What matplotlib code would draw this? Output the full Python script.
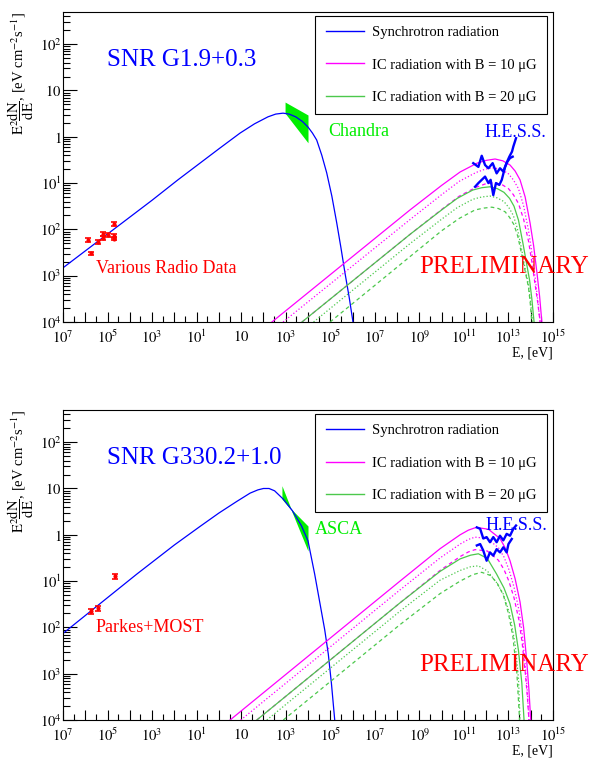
import numpy as np
import matplotlib.pyplot as plt
from matplotlib.lines import Line2D
from matplotlib.ticker import FixedLocator, FixedFormatter, LogLocator, NullFormatter

# --- fonts (ROOT-like Times look) ---
plt.rcParams['font.family'] = ['Liberation Serif', 'DejaVu Serif']
plt.rcParams['mathtext.fontset'] = 'stix'

# --- data (log10 E [eV], log10 E^2 dN/dE) ---
# upper panel: SNR G1.9+0.3
top_sync_logE = [-7.0, -3.0, -1.84, 0.0, 0.95, 1.6, 2.2, 2.55, 2.88, 3.15, 3.45, 3.75, 4.0, 4.2,
                 4.39, 4.62, 4.84, 5.07, 5.29, 5.48, 5.66, 5.85, 6.02]
top_sync_logF = [-2.83, -1.37, -0.93, -0.26, 0.08, 0.28, 0.43, 0.49, 0.51, 0.49, 0.43, 0.33, 0.21, 0.08,
                 -0.07, -0.40, -0.78, -1.28, -1.86, -2.40, -2.94, -3.47, -4.0]

top_ic10_solid_logE = [2.38, 8.58, 10.0, 10.83, 11.59, 12.0, 12.40, 12.75, 13.07, 13.3, 13.52, 13.75, 13.97, 14.13, 14.28, 14.4, 14.5]
top_ic10_solid_logF = [-4.0, -1.58, -1.05, -0.76, -0.57, -0.51, -0.48, -0.52, -0.61, -0.74, -0.93, -1.30, -1.86, -2.35, -2.94, -3.45, -4.0]
top_ic10_dot_logE = [2.88, 8.6, 10.0, 10.8, 11.55, 11.95, 12.35, 12.7, 13.0, 13.22, 13.45, 13.68, 13.9, 14.05, 14.2, 14.32, 14.42]
top_ic10_dot_logF = [-4.0, -1.78, -1.25, -0.96, -0.77, -0.70, -0.67, -0.71, -0.80, -0.93, -1.12, -1.49, -2.02, -2.5, -3.05, -3.55, -4.0]
top_ic10_dash_logE = [3.73, 8.6, 10.0, 10.8, 11.55, 11.95, 12.35, 12.7, 13.0, 13.22, 13.45, 13.68, 13.9, 14.05, 14.2, 14.32, 14.42]
top_ic10_dash_logF = [-4.0, -2.10, -1.57, -1.28, -1.09, -1.02, -0.99, -1.03, -1.12, -1.25, -1.44, -1.78, -2.25, -2.7, -3.2, -3.6, -4.0]
top_ic20_solid_logE = [3.73, 8.6, 10.0, 10.7, 11.4, 11.8, 12.17, 12.5, 12.8, 13.05, 13.25, 13.45, 13.65, 13.8, 13.95, 14.05, 14.15]
top_ic20_solid_logF = [-4.0, -2.10, -1.58, -1.33, -1.15, -1.10, -1.08, -1.12, -1.20, -1.33, -1.50, -1.80, -2.3, -2.7, -3.1, -3.5, -4.0]
top_ic20_dot_logE = [4.25, 8.6, 10.0, 10.7, 11.4, 11.8, 12.17, 12.5, 12.8, 13.02, 13.22, 13.4, 13.6, 13.75, 13.9, 14.0, 14.08]
top_ic20_dot_logF = [-4.0, -2.30, -1.78, -1.53, -1.35, -1.30, -1.28, -1.32, -1.40, -1.53, -1.70, -1.98, -2.45, -2.85, -3.2, -3.6, -4.0]
top_ic20_dash_logE = [4.99, 8.6, 10.0, 10.8, 11.5, 11.9, 12.25, 12.55, 12.85, 13.05, 13.25, 13.42, 13.6, 13.75, 13.9, 13.98, 14.05]
top_ic20_dash_logF = [-4.0, -2.58, -2.03, -1.76, -1.58, -1.54, -1.52, -1.55, -1.62, -1.74, -1.90, -2.15, -2.55, -2.9, -3.25, -3.6, -4.0]

top_radio_logE = [-5.86, -5.76, -5.44, -5.22, -5.22, -4.97, -4.70, -4.70, -4.70]
top_radio_logF = [-2.23, -2.52, -2.28, -2.10, -2.18, -2.12, -1.88, -2.14, -2.20]
top_radio_err = [0.05, 0.04, 0.04, 0.05, 0.04, 0.04, 0.05, 0.04, 0.04]

top_xray_logE = [2.97, 4.0]
top_xray_hi = [0.75, 0.47]
top_xray_lo = [0.51, -0.13]

top_hess_hi_logE = [11.42, 11.65, 11.80, 11.95, 12.10, 12.29, 12.47, 12.62, 12.77, 12.92, 13.04, 13.16, 13.22, 13.34]
top_hess_hi_logF = [-0.57, -0.65, -0.41, -0.61, -0.68, -0.57, -0.79, -0.68, -0.75, -0.56, -0.43, -0.32, -0.21, -0.03]
top_hess_lo_logE = [11.50, 11.65, 11.80, 11.95, 12.10, 12.20, 12.32, 12.44, 12.59, 12.70, 12.85, 12.95, 13.07, 13.19]
top_hess_lo_logF = [-1.08, -1.00, -0.93, -0.86, -1.00, -0.93, -1.26, -1.00, -1.04, -0.93, -0.65, -0.54, -0.46, -0.43]

# lower panel: SNR G330.2+1.0
bot_sync_logE = [-7.0, -3.69, -2.0, -0.85, 0.0, 0.8, 1.4, 1.75, 2.0, 2.25, 2.5, 2.89, 3.3, 3.7, 4.0, 4.3,
                 4.54, 4.75, 4.91, 5.05, 5.2]
bot_sync_logF = [-2.13, -0.85, -0.22, 0.18, 0.47, 0.72, 0.90, 0.97, 1.0, 1.0, 0.95, 0.77, 0.52, 0.20, -0.13, -0.85,
                 -1.49, -2.05, -2.57, -3.2, -4.0]

bot_ic10_solid_logE = [0.50, 8.13, 9.93, 10.83, 11.2, 11.55, 12.1, 12.62, 12.85, 13.07, 13.3, 13.52, 13.68, 13.82, 13.92, 14.0]
bot_ic10_solid_logF = [-4.0, -1.0, -0.30, 0.0, 0.10, 0.16, 0.12, -0.08, -0.28, -0.56, -0.95, -1.45, -2.0, -2.72, -3.35, -4.0]
bot_ic10_dot_logE = [0.98, 8.13, 9.93, 10.83, 11.2, 11.5, 12.05, 12.55, 12.8, 13.02, 13.25, 13.47, 13.62, 13.75, 13.85, 13.92]
bot_ic10_dot_logF = [-4.0, -1.19, -0.50, -0.20, -0.10, -0.05, -0.08, -0.28, -0.48, -0.75, -1.13, -1.62, -2.15, -2.8, -3.4, -4.0]
bot_ic10_dash_logE = [1.70, 8.13, 9.93, 10.83, 11.2, 11.5, 12.05, 12.55, 12.8, 13.02, 13.25, 13.47, 13.62, 13.75, 13.85, 13.92]
bot_ic10_dash_logF = [-4.0, -1.47, -0.77, -0.47, -0.37, -0.32, -0.35, -0.55, -0.75, -1.0, -1.36, -1.84, -2.35, -2.95, -3.5, -4.0]
bot_ic20_solid_logE = [1.70, 8.13, 9.93, 10.83, 11.3, 11.65, 12.05, 12.47, 12.8, 13.07, 13.28, 13.45, 13.6, 13.70]
bot_ic20_solid_logF = [-4.0, -1.47, -0.79, -0.52, -0.44, -0.41, -0.51, -0.85, -1.15, -1.49, -1.95, -2.50, -3.2, -4.0]
bot_ic20_dot_logE = [2.15, 8.13, 9.93, 10.83, 11.3, 11.65, 12.05, 12.45, 12.77, 13.05, 13.3, 13.45, 13.52]
bot_ic20_dot_logF = [-4.0, -1.65, -0.98, -0.77, -0.69, -0.67, -0.78, -1.02, -1.28, -1.7, -2.36, -3.1, -4.0]
bot_ic20_dash_logE = [2.89, 8.13, 9.93, 10.83, 11.4, 11.8, 12.2, 12.5, 12.77, 13.0, 13.2, 13.38, 13.5]
bot_ic20_dash_logF = [-4.0, -1.94, -1.27, -1.0, -0.86, -0.81, -0.88, -1.05, -1.3, -1.7, -2.2, -3.0, -4.0]

bot_radio_logE = [-5.76, -5.44, -4.67]
bot_radio_logF = [-1.65, -1.59, -0.90]
bot_radio_err = [0.05, 0.05, 0.05]

bot_xray_logE = [2.83, 3.24, 4.0]
bot_xray_hi = [1.06, 0.56, 0.19]
bot_xray_lo = [0.77, 0.54, -0.35]

bot_hess_hi_logE = [11.58, 11.73, 11.87, 12.02, 12.17, 12.32, 12.47, 12.62, 12.77, 12.92, 13.07, 13.22, 13.34]
bot_hess_hi_logF = [0.16, 0.13, -0.08, -0.05, -0.16, -0.05, -0.16, -0.02, -0.12, 0.02, -0.02, 0.13, 0.20]
bot_hess_lo_logE = [11.58, 11.73, 11.87, 12.02, 12.17, 12.32, 12.47, 12.62, 12.77, 12.92, 13.0, 13.15]
bot_hess_lo_logF = [-0.23, -0.20, -0.34, -0.56, -0.38, -0.45, -0.31, -0.38, -0.27, -0.38, -0.20, -0.09]

# --- axis ticks ---
x_major_exp = list(range(-7, 16))
x_major_lab = {-7: '$10^{7}$', -5: '$10^{5}$', -3: '$10^{3}$', -1: '$10^{1}$', 1: '$10$', 3: '$10^{3}$',
               5: '$10^{5}$', 7: '$10^{7}$', 9: '$10^{9}$', 11: '$10^{11}$', 13: '$10^{13}$', 15: '$10^{15}$'}
y_major_exp = [-4, -3, -2, -1, 0, 1, 2]
y_major_lab = ['$10^{4}$', '$10^{3}$', '$10^{2}$', '$10^{1}$', '$1$', '$10$', '$10^{2}$']

BLUE = '#0000ff'
MAG = '#ff00ff'
GRN = '#4cc84c'
LIME = '#00ee00'
RED = '#ff0000'
SERIF = 'Liberation Serif'


def p10(v):
    return np.power(10.0, np.asarray(v, dtype=float))


def setup_axes(ax):
    ax.set_xscale('log')
    ax.set_yscale('log')
    ax.set_xlim(1e-7, 1e15)
    ax.set_ylim(1e-4, 10 ** 2.695)
    ax.xaxis.set_major_locator(FixedLocator(p10(x_major_exp)))
    ax.xaxis.set_major_formatter(FixedFormatter([x_major_lab.get(e, '') for e in x_major_exp]))
    ax.xaxis.set_minor_locator(FixedLocator(3 * p10(x_major_exp[:-1])))
    ax.xaxis.set_minor_formatter(NullFormatter())
    ax.yaxis.set_major_locator(FixedLocator(p10(y_major_exp)))
    ax.yaxis.set_major_formatter(FixedFormatter(y_major_lab))
    ax.yaxis.set_minor_locator(LogLocator(base=10, subs=np.arange(2, 10), numticks=20))
    ax.yaxis.set_minor_formatter(NullFormatter())
    ax.tick_params(axis='x', which='major', direction='in', length=7, width=0.8, labelsize=10.5, pad=5)
    ax.tick_params(axis='x', which='minor', direction='in', length=4, width=0.8)
    ax.tick_params(axis='y', which='major', direction='in', length=10, width=0.8, labelsize=10.5, pad=1)
    ax.tick_params(axis='y', which='minor', direction='in', length=5, width=0.8)
    for s in ax.spines.values():
        s.set_linewidth(0.8)
    ax.set_ylabel(r'$\mathrm{E^{2}\dfrac{dN}{dE}}$, [eV cm$^{-2}$s$^{-1}$]', loc='top', fontsize=10.5, labelpad=3)
    ax.set_xlabel('E, [eV]', loc='right', fontsize=10, labelpad=0)


def draw_ic(ax, sets):
    styles = [(MAG, '-'), (MAG, ':'), (MAG, (0, (3, 2.5))), (GRN, '-'), (GRN, ':'), (GRN, (0, (3, 2.5)))]
    for (e, f), (c, ls) in zip(sets, styles):
        ax.plot(p10(e), p10(f), color=c, ls=ls, lw=0.9)


def draw_hess(ax, hi_e, hi_f, lo_e, lo_f):
    ax.plot(p10(hi_e), p10(hi_f), color=BLUE, lw=1.7)
    ax.plot(p10(lo_e), p10(lo_f), color=BLUE, lw=1.7)


def draw_radio(ax, le, lf, err):
    y = p10(lf)
    yl = y - p10(np.asarray(lf) - np.asarray(err))
    yh = p10(np.asarray(lf) + np.asarray(err)) - y
    ax.errorbar(p10(le), y, yerr=[yl, yh], fmt='o', ms=2, color=RED, ecolor=RED,
                elinewidth=1.2, capsize=2, capthick=1.2)


def add_legend(ax):
    handles = [Line2D([], [], color=BLUE, lw=1), Line2D([], [], color=MAG, lw=1), Line2D([], [], color=GRN, lw=1)]
    labels = ['Synchrotron radiation', 'IC radiation with B = 10 μG', 'IC radiation with B = 20 μG']
    leg = ax.legend(handles, labels, loc='upper right', bbox_to_anchor=(0.988, 0.987), borderaxespad=0,
                    fontsize=10.5, handlelength=2.65, labelspacing=1.3, borderpad=0.7, handletextpad=0.55,
                    fancybox=False, framealpha=1, edgecolor='black')
    leg.get_frame().set_linewidth(0.8)


fig = plt.figure(figsize=(5.95, 7.58), dpi=100)
ax1 = fig.add_axes([0.1059, 0.5752, 0.8235, 0.409])
ax2 = fig.add_axes([0.1059, 0.0501, 0.8235, 0.409])

# upper panel
setup_axes(ax1)
ax1.plot(p10(top_sync_logE), p10(top_sync_logF), color=BLUE, lw=0.9)
draw_ic(ax1, [(top_ic10_solid_logE, top_ic10_solid_logF), (top_ic10_dot_logE, top_ic10_dot_logF),
              (top_ic10_dash_logE, top_ic10_dash_logF), (top_ic20_solid_logE, top_ic20_solid_logF),
              (top_ic20_dot_logE, top_ic20_dot_logF), (top_ic20_dash_logE, top_ic20_dash_logF)])
ax1.fill_between(p10(top_xray_logE), p10(top_xray_lo), p10(top_xray_hi), color=LIME, lw=0)
draw_hess(ax1, top_hess_hi_logE, top_hess_hi_logF, top_hess_lo_logE, top_hess_lo_logF)
draw_radio(ax1, top_radio_logE, top_radio_logF, top_radio_err)
add_legend(ax1)
ax1.text(0.09, 0.845, 'SNR G1.9+0.3', transform=ax1.transAxes, color=BLUE, fontsize=18, va='center', family=SERIF)
ax1.text(0.541, 0.613, 'Chandra', transform=ax1.transAxes, color=LIME, fontsize=13, va='center', family=SERIF)
ax1.text(0.861, 0.61, 'H.E.S.S.', transform=ax1.transAxes, color=BLUE, fontsize=13, va='center', family=SERIF)
ax1.text(0.067, 0.171, 'Various Radio Data', transform=ax1.transAxes, color=RED, fontsize=13, va='center', family=SERIF)
ax1.text(0.727, 0.177, 'PRELIMINARY', transform=ax1.transAxes, color=RED, fontsize=18, va='center',
         family=SERIF, clip_on=False)

# lower panel
setup_axes(ax2)
ax2.plot(p10(bot_sync_logE), p10(bot_sync_logF), color=BLUE, lw=0.9)
draw_ic(ax2, [(bot_ic10_solid_logE, bot_ic10_solid_logF), (bot_ic10_dot_logE, bot_ic10_dot_logF),
              (bot_ic10_dash_logE, bot_ic10_dash_logF), (bot_ic20_solid_logE, bot_ic20_solid_logF),
              (bot_ic20_dot_logE, bot_ic20_dot_logF), (bot_ic20_dash_logE, bot_ic20_dash_logF)])
ax2.fill_between(p10(bot_xray_logE), p10(bot_xray_lo), p10(bot_xray_hi), color=LIME, lw=0)
draw_hess(ax2, bot_hess_hi_logE, bot_hess_hi_logF, bot_hess_lo_logE, bot_hess_lo_logF)
draw_radio(ax2, bot_radio_logE, bot_radio_logF, bot_radio_err)
add_legend(ax2)
ax2.text(0.09, 0.845, 'SNR G330.2+1.0', transform=ax2.transAxes, color=BLUE, fontsize=18, va='center', family=SERIF)
ax2.text(0.514, 0.616, 'ASCA', transform=ax2.transAxes, color=LIME, fontsize=13, va='center', family=SERIF)
ax2.text(0.863, 0.629, 'H.E.S.S.', transform=ax2.transAxes, color=BLUE, fontsize=13, va='center', family=SERIF)
ax2.text(0.067, 0.297, 'Parkes+MOST', transform=ax2.transAxes, color=RED, fontsize=13, va='center', family=SERIF)
ax2.text(0.727, 0.177, 'PRELIMINARY', transform=ax2.transAxes, color=RED, fontsize=18, va='center',
         family=SERIF, clip_on=False)

fig.savefig('out.png', dpi=100)
